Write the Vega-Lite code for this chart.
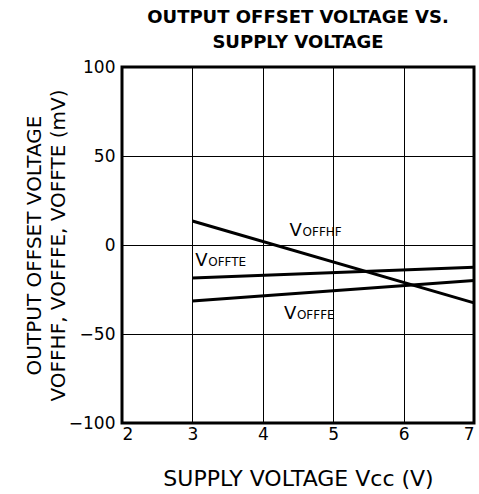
{
  "$schema": "https://vega.github.io/schema/vega-lite/v6.json",
  "width": 352,
  "height": 356,
  "autosize": "none",
  "padding": {"left": 122, "top": 67, "right": 5, "bottom": 71},
  "background": "white",
  "config": {
    "view": {"stroke": "black", "strokeWidth": 3},
    "font": "DejaVu Sans",
    "axis": {
      "domain": false,
      "ticks": false,
      "grid": true,
      "gridColor": "black",
      "gridOpacity": 1,
      "gridWidth": 1,
      "labelColor": "black",
      "titleColor": "black",
      "labelFont": "DejaVu Sans",
      "titleFont": "DejaVu Sans",
      "labelFontSize": 17,
      "titleFontWeight": "normal"
    }
  },
  "title": {
    "text": ["OUTPUT OFFSET VOLTAGE VS.", "SUPPLY VOLTAGE"],
    "font": "DejaVu Sans",
    "fontSize": 18,
    "fontWeight": "bold",
    "color": "black",
    "anchor": "middle",
    "frame": "group",
    "lineHeight": 25,
    "offset": 6
  },
  "datasets": {
    "lines": [
      {"series": "VOFFHF", "vcc": 3, "mv": 13.5},
      {"series": "VOFFHF", "vcc": 7, "mv": -32.5},
      {"series": "VOFFTE", "vcc": 3, "mv": -18.5},
      {"series": "VOFFTE", "vcc": 7, "mv": -12.5},
      {"series": "VOFFFE", "vcc": 3, "mv": -31.5},
      {"series": "VOFFFE", "vcc": 7, "mv": -20}
    ],
    "labels": [
      {"v": "V", "sub": "OFFHF", "vcc": 4.38, "mv": 5},
      {"v": "V", "sub": "OFFTE", "vcc": 3.04, "mv": -11.8},
      {"v": "V", "sub": "OFFFE", "vcc": 4.3, "mv": -41.6}
    ]
  },
  "layer": [
    {
      "data": {"name": "lines"},
      "mark": {"type": "line", "color": "black", "strokeWidth": 3},
      "encoding": {
        "x": {
          "field": "vcc", "type": "quantitative",
          "scale": {"domain": [2, 7], "nice": false},
          "axis": {
            "values": [2, 3, 4, 5, 6, 7],
            "format": "d",
            "labelPadding": 3,
            "title": "SUPPLY VOLTAGE Vcc (V)",
            "titleFontSize": 22,
            "titlePadding": 26
          }
        },
        "y": {
          "field": "mv", "type": "quantitative",
          "scale": {"domain": [-100, 100], "nice": false},
          "axis": {
            "values": [-100, -50, 0, 50, 100],
            "labelPadding": 7,
            "title": ["OUTPUT OFFSET VOLTAGE", "VOFFHF, VOFFFE, VOFFTE (mV)"],
            "titleFontSize": 20,
            "titleLineHeight": 24,
            "titlePadding": 0
          }
        },
        "detail": {"field": "series"}
      }
    },
    {
      "data": {"name": "labels"},
      "mark": {"type": "text", "align": "left", "baseline": "alphabetic", "fontSize": 18, "color": "black", "font": "DejaVu Sans"},
      "encoding": {
        "x": {"field": "vcc", "type": "quantitative"},
        "y": {"field": "mv", "type": "quantitative"},
        "text": {"field": "v"}
      }
    },
    {
      "data": {"name": "labels"},
      "mark": {"type": "text", "align": "left", "baseline": "alphabetic", "fontSize": 12, "dx": 13, "color": "black", "font": "DejaVu Sans"},
      "encoding": {
        "x": {"field": "vcc", "type": "quantitative"},
        "y": {"field": "mv", "type": "quantitative"},
        "text": {"field": "sub"}
      }
    }
  ]
}
